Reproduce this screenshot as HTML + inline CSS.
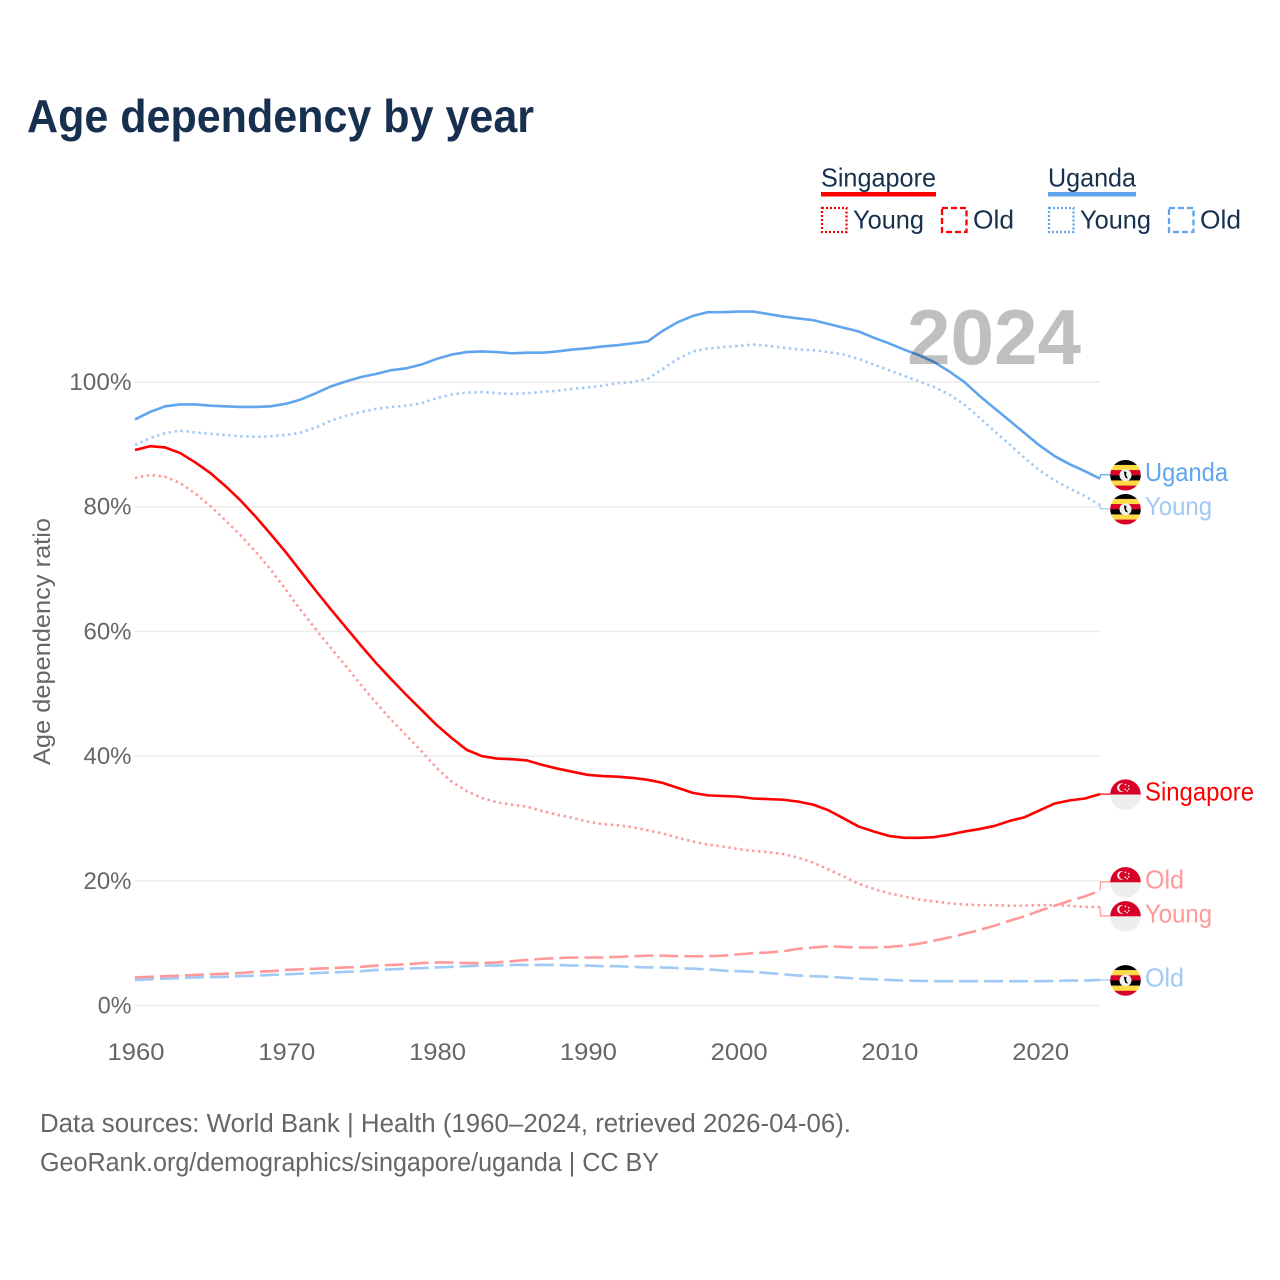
<!DOCTYPE html>
<html lang="en">
<head>
<meta charset="utf-8">
<title>Age dependency by year</title>
<style>
  html, body { margin: 0; padding: 0; background: #fff; }
  svg { display: block; font-family: "Liberation Sans", sans-serif; }
</style>
</head>
<body>
<svg id="chart" xmlns="http://www.w3.org/2000/svg" width="1280" height="1280" viewBox="0 0 1280 1280">
  <defs>
    <clipPath id="flag-clip"><circle cx="0" cy="0" r="15.3"></circle></clipPath>
  </defs>
  <rect x="0" y="0" width="1280" height="1280" fill="#ffffff"></rect>
  <text x="27" y="132" font-size="46" font-weight="700" fill="#17304f" textLength="507" lengthAdjust="spacingAndGlyphs">Age dependency by year</text>

  <g font-size="26" fill="#17304f">
    <text x="821" y="186.5" textLength="115" lengthAdjust="spacingAndGlyphs">Singapore</text>
    <rect x="821" y="192" width="115" height="4.5" fill="#ff0000"></rect>
    <rect x="822" y="208" width="24.5" height="24" fill="none" stroke="#ff0000" stroke-width="2.3" stroke-dasharray="2 2"></rect>
    <text x="853" y="228.5" textLength="71" lengthAdjust="spacingAndGlyphs">Young</text>
    <rect x="942" y="208" width="24.5" height="24" fill="none" stroke="#ff0000" stroke-width="2.3" stroke-dasharray="6 3"></rect>
    <text x="973" y="228.5" textLength="41" lengthAdjust="spacingAndGlyphs">Old</text>
    <text x="1048" y="186.5" textLength="88" lengthAdjust="spacingAndGlyphs">Uganda</text>
    <rect x="1048" y="192" width="88" height="4.5" fill="#60a5ee"></rect>
    <rect x="1049" y="208" width="24.5" height="24" fill="none" stroke="#60a5ee" stroke-width="2.3" stroke-dasharray="2 2"></rect>
    <text x="1080" y="228.5" textLength="71" lengthAdjust="spacingAndGlyphs">Young</text>
    <rect x="1169" y="208" width="24.5" height="24" fill="none" stroke="#60a5ee" stroke-width="2.3" stroke-dasharray="6 3"></rect>
    <text x="1200" y="228.5" textLength="41" lengthAdjust="spacingAndGlyphs">Old</text>
  </g>

  <g id="grid"></g>
  <g id="y-ticks"></g>
  <g id="x-ticks"></g>
  <text transform="translate(50 641.5) rotate(-90)" text-anchor="middle" font-size="24.5" fill="#666666" textLength="247" lengthAdjust="spacingAndGlyphs">Age dependency ratio</text>
  <g id="series"></g>
  <text id="year-label" x="907" y="364" font-size="78" font-weight="700" fill="#000000" fill-opacity="0.25" textLength="174" lengthAdjust="spacingAndGlyphs">2024</text>
  <g id="end-labels"></g>

  <text x="40" y="1132" font-size="25.5" fill="#666666" textLength="811" lengthAdjust="spacingAndGlyphs">Data sources: World Bank | Health (1960–2024, retrieved 2026-04-06).</text>
  <text x="40" y="1171" font-size="25.5" fill="#666666" textLength="619" lengthAdjust="spacingAndGlyphs">GeoRank.org/demographics/singapore/uganda | CC BY</text>
</svg>
<script>
const years = [1960,1961,1962,1963,1964,1965,1966,1967,1968,1969,1970,1971,1972,1973,1974,1975,1976,1977,1978,1979,1980,1981,1982,1983,1984,1985,1986,1987,1988,1989,1990,1991,1992,1993,1994,1995,1996,1997,1998,1999,2000,2001,2002,2003,2004,2005,2006,2007,2008,2009,2010,2011,2012,2013,2014,2015,2016,2017,2018,2019,2020,2021,2022,2023,2024];
const ugandaTotal = [94.0,95.2,96.1,96.4,96.4,96.2,96.1,96.0,96.0,96.1,96.5,97.2,98.2,99.3,100.1,100.8,101.3,101.9,102.2,102.8,103.7,104.4,104.8,104.9,104.8,104.6,104.7,104.7,104.9,105.2,105.4,105.7,105.9,106.2,106.5,108.2,109.6,110.6,111.2,111.2,111.3,111.3,110.9,110.5,110.2,109.9,109.3,108.7,108.1,107.1,106.2,105.2,104.3,103.2,101.7,100.0,97.8,95.8,93.8,91.8,89.8,88.1,86.8,85.7,84.5];
const ugandaYoung = [89.9,91.0,91.8,92.2,91.9,91.7,91.5,91.3,91.2,91.3,91.5,91.9,92.7,93.8,94.6,95.2,95.7,96.0,96.2,96.6,97.4,98.0,98.3,98.4,98.2,98.1,98.2,98.4,98.6,98.9,99.1,99.4,99.8,100.0,100.5,102.1,103.7,104.9,105.4,105.6,105.8,106.0,105.8,105.5,105.2,105.1,104.8,104.4,103.7,102.8,101.9,101.0,100.1,99.2,98.0,96.4,94.3,92.1,90.0,87.8,85.8,84.2,82.9,81.7,80.3];
const ugandaOld = [4.1,4.2,4.3,4.4,4.5,4.55,4.6,4.7,4.8,4.9,5.0,5.1,5.2,5.3,5.4,5.5,5.7,5.8,5.9,6.0,6.1,6.2,6.3,6.4,6.4,6.5,6.5,6.5,6.5,6.4,6.4,6.3,6.3,6.2,6.1,6.1,6.0,5.9,5.8,5.6,5.5,5.4,5.2,5.0,4.8,4.7,4.6,4.45,4.3,4.2,4.1,4.0,3.95,3.9,3.9,3.9,3.9,3.9,3.9,3.9,3.9,3.95,4.0,4.0,4.1];
const singaporeTotal = [89.1,89.7,89.5,88.6,87.1,85.4,83.3,81.0,78.4,75.6,72.7,69.6,66.5,63.5,60.6,57.7,54.9,52.3,49.8,47.4,45.0,42.9,41.0,40.0,39.6,39.5,39.3,38.6,38.0,37.5,37.0,36.8,36.7,36.5,36.2,35.7,34.9,34.1,33.7,33.6,33.5,33.2,33.1,33.0,32.7,32.2,31.3,30.0,28.7,27.9,27.2,26.9,26.9,27.0,27.4,27.9,28.3,28.8,29.6,30.2,31.3,32.4,32.9,33.2,33.9];
const singaporeYoung = [84.6,85.1,84.8,83.8,82.1,80.1,77.8,75.4,72.8,69.9,66.7,63.4,60.3,57.3,54.4,51.4,48.5,45.8,43.3,40.8,38.1,35.9,34.4,33.3,32.6,32.2,31.9,31.2,30.6,30.1,29.5,29.1,28.9,28.6,28.1,27.6,26.9,26.3,25.8,25.5,25.1,24.8,24.6,24.3,23.7,22.9,21.8,20.7,19.5,18.7,18.0,17.5,17.0,16.7,16.4,16.2,16.1,16.1,16.0,16.0,16.1,16.1,16.0,15.8,15.8];
const singaporeOld = [4.5,4.6,4.7,4.8,4.9,5.0,5.1,5.2,5.4,5.5,5.7,5.8,5.9,6.0,6.1,6.2,6.4,6.5,6.6,6.8,6.9,6.9,6.8,6.8,6.9,7.1,7.3,7.5,7.6,7.7,7.7,7.7,7.8,7.9,8.0,8.0,7.9,7.9,7.9,8.0,8.2,8.4,8.5,8.7,9.1,9.3,9.5,9.4,9.3,9.3,9.4,9.6,9.9,10.4,10.9,11.5,12.1,12.8,13.6,14.3,15.2,16.0,16.8,17.5,18.4];
const yTicks = [0,20,40,60,80,100];
const xTicks = [1960,1970,1980,1990,2000,2010,2020];

const NS = 'http://www.w3.org/2000/svg';
const plot = { left: 135, right: 1100, bottom: 1005.5, top: 382 };
function xScale(year) {
  return plot.left + (year - 1960) * (plot.right - plot.left) / 64;
}
function yScale(pct) {
  return plot.bottom - pct * (plot.bottom - plot.top) / 100;
}
function make(tag, parent, attrs) {
  const el = document.createElementNS(NS, tag);
  Object.keys(attrs).forEach(function (k) { el.setAttribute(k, attrs[k]); });
  parent.appendChild(el);
  return el;
}

const grid = document.getElementById('grid');
const yTickGroup = document.getElementById('y-ticks');
yTicks.forEach(function (t) {
  const line = make('line', grid, { x1: plot.left, x2: plot.right, y1: yScale(t), y2: yScale(t), stroke: '#ececec', 'stroke-width': 1.5 });
  
  
  const str = t + '%';
  const label = make('text', yTickGroup, { x: 131.5, y: yScale(t) + 8, 'text-anchor': 'end', 'font-size': 24.5, fill: '#666666', textLength: (String(t).length * 14.25 + 19.5), lengthAdjust: 'spacingAndGlyphs' });
  label.textContent = str;
  
  
});

const xTickGroup = document.getElementById('x-ticks');
xTicks.forEach(function (t) {
  const label = make('text', xTickGroup, { x: xScale(t) + 1, y: 1060, 'text-anchor': 'middle', 'font-size': 24.5, fill: '#666666', textLength: 57, lengthAdjust: 'spacingAndGlyphs' });
  label.textContent = String(t);
  
  
});

const UG = '#60a5ee';
const UG_L = '#a0c9f5';
const SG = '#ff0000';
const SG_L = '#ff9999';
const DOT = '2.4 3.6';
const DASH = '19 6';
const seriesList = [
  { key: 'uganda-young', values: ugandaYoung, color: UG_L, dash: DOT, label: 'Young', width: 67, flag: 'ug', thin: UG_L },
  { key: 'uganda-old', values: ugandaOld, color: UG_L, dash: DASH, label: 'Old', width: 39, flag: 'ug', thin: UG_L },
  { key: 'singapore-young', values: singaporeYoung, color: SG_L, dash: DOT, label: 'Young', width: 67, flag: 'sg', thin: SG_L },
  { key: 'singapore-old', values: singaporeOld, color: SG_L, dash: DASH, label: 'Old', width: 39, flag: 'sg', thin: SG_L },
  { key: 'uganda', values: ugandaTotal, color: UG, dash: null, label: 'Uganda', width: 83, flag: 'ug', thin: UG },
  { key: 'singapore', values: singaporeTotal, color: SG, dash: null, label: 'Singapore', width: 109, flag: 'sg', thin: SG }
];

const seriesGroup = document.getElementById('series');
seriesList.forEach(function (s) {
  const d = s.values.map(function (v, i) {
    return (i ? 'L' : 'M') + xScale(years[i]).toFixed(2) + ' ' + yScale(v).toFixed(2);
  }).join(' ');
  const attrs = { d: d, fill: 'none', stroke: s.color, 'stroke-width': 2.6, 'stroke-linejoin': 'round' };
  if (s.dash) { attrs['stroke-dasharray'] = s.dash; }
  const path = make('path', seriesGroup, attrs);
  
  
});

/* end labels: symmetric de-overlap of last values */
const GAP = 34;
const ends = seriesList.map(function (s) {
  const y0 = yScale(s.values[s.values.length - 1]);
  return { s: s, y0: y0, y: y0 };
}).sort(function (a, b) { return a.y0 - b.y0; });
for (let pass = 0; pass < 6; pass++) {
  for (let i = 1; i < ends.length; i++) {
    const deficit = GAP - (ends[i].y - ends[i - 1].y);
    if (deficit > 0) {
      ends[i].y += deficit / 2;
      ends[i - 1].y -= deficit / 2;
    }
  }
}

function drawFlag(parent, kind, cy) {
  const g = make('g', parent, { transform: 'translate(1125.5 ' + (cy + 0.5).toFixed(2) + ')' });
  
  
  const inner = make('g', g, { 'clip-path': 'url(#flag-clip)' });
  if (kind === 'ug') {
    ['#000000', '#ffda44', '#d80027', '#000000', '#ffda44', '#d80027'].forEach(function (c, i) {
      make('rect', inner, { x: -16, y: -15.5 + i * 5.17, width: 32, height: 5.3, fill: c });
    });
    make('circle', inner, { cx: 0, cy: 0, r: 6, fill: '#f0f0f0' });
    make('path', inner, { d: 'M-1.5 -4 L1 -3 L0.6 0 L2.6 3.2 L0.2 2.6 L-1 0 Z', fill: '#000000' });
  } else {
    make('rect', inner, { x: -16, y: -16, width: 32, height: 16, fill: '#d80027' });
    make('rect', inner, { x: -16, y: 0, width: 32, height: 16, fill: '#eeeeee' });
    make('circle', inner, { cx: -4, cy: -7, r: 4.4, fill: '#f0f0f0' });
    make('circle', inner, { cx: -2.4, cy: -7, r: 3.9, fill: '#d80027' });
    [[0, -10], [3.2, -8.6], [3.2, -5.6], [-0.4, -5.2], [1.6, -3.8]].forEach(function (p) {
      make('circle', inner, { cx: p[0], cy: p[1], r: 0.85, fill: '#f0f0f0' });
    });
  }
}

const labelGroup = document.getElementById('end-labels');
ends.forEach(function (e) {
  const s = e.s;
  const connector = make('path', labelGroup, {
    d: 'M' + plot.right + ' ' + e.y0.toFixed(2) + ' L' + (plot.right + 0.5) + ' ' + e.y.toFixed(2) + ' L1111 ' + e.y.toFixed(2),
    fill: 'none', stroke: s.thin, 'stroke-width': 1.2
  });
  
  
  drawFlag(labelGroup, s.flag, e.y);
  const text = make('text', labelGroup, { x: 1145, y: e.y + 6.5, 'font-size': 26, fill: s.color, textLength: s.width, lengthAdjust: 'spacingAndGlyphs' });
  text.textContent = s.label;
  
  
});
</script>
</body>
</html>
